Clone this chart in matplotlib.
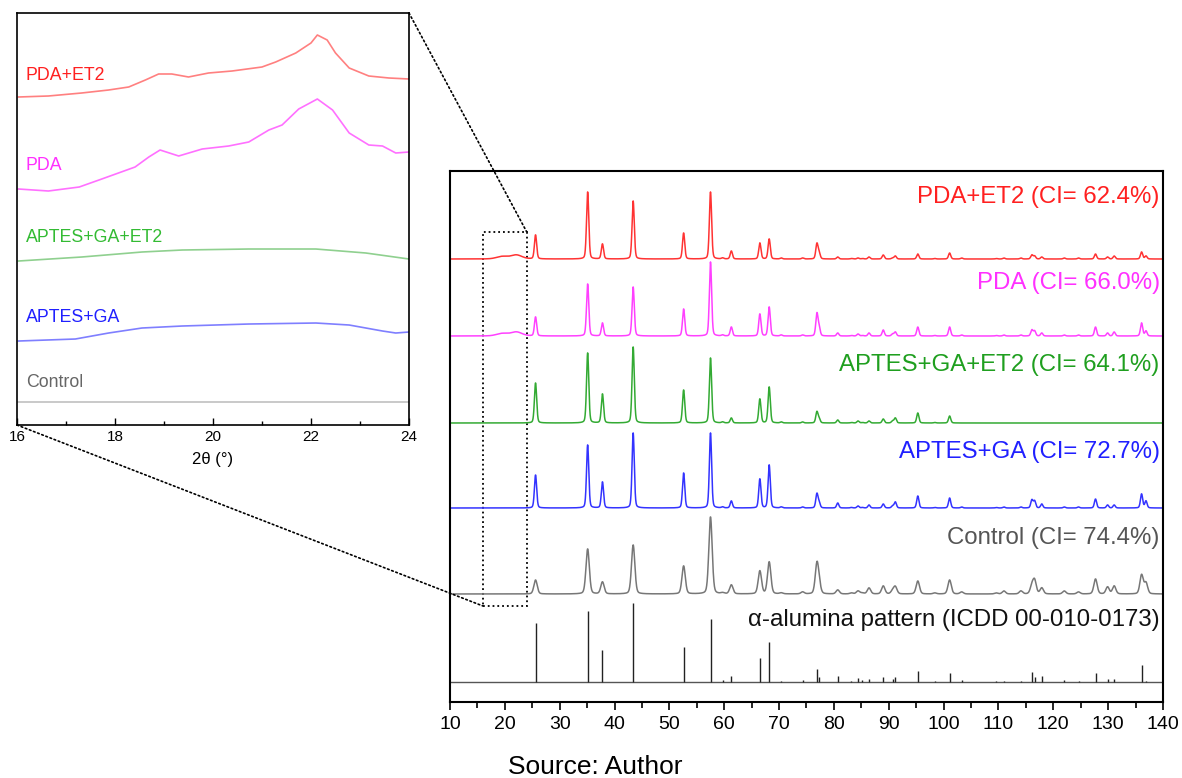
import numpy as np
import matplotlib
matplotlib.use("Agg")
import matplotlib.pyplot as plt
from matplotlib.patches import Rectangle, ConnectionPatch

plt.rcParams['font.family'] = ['Liberation Sans', 'DejaVu Sans']

# peak positions (2theta, deg) of alpha-alumina and heights
peak_pos = [25.6, 35.1, 37.8, 43.4, 52.6, 57.5, 59.7, 61.3, 66.5, 68.2, 70.4, 74.3,
            76.9, 77.3, 80.7, 83.2, 84.4, 85.2, 86.4, 89.0, 90.7, 91.2, 95.3, 98.4,
            101.1, 103.3, 109.6, 111.0, 114.1, 116.1, 116.6, 117.9, 122.0, 124.6,
            127.7, 129.9, 131.1, 136.1, 136.9]
red_h = [24, 67, 15, 58, 26, 67, 1, 8, 16, 20, 1, 1, 15, 6, 2, 0.5, 1, 0.5, 2, 4, 1, 3,
         5, 0.5, 6, 1, 0.5, 1, 1, 4, 3, 2, 1, 1, 5, 2, 3, 7, 3]
pda_h = [19, 52, 13, 49, 27, 74, 1, 9, 22, 29, 1, 1, 22, 8, 3, 0.5, 2, 0.5, 3, 6, 2, 4,
         9, 0.5, 9, 1, 0.5, 1, 1, 6, 5, 3, 1, 1, 9, 3, 4, 13, 5]
green_h = [40, 70, 29, 76, 33, 65, 1, 5, 24, 36, 1, 1, 11, 4, 3, 0.5, 2, 0.5, 2, 4, 2, 5,
           10, 0.5, 7, 0, 0, 0, 0, 0, 0, 0, 0, 0, 0, 0, 0, 0, 0]
blue_h = [33, 63, 26, 75, 35, 75, 1, 7, 29, 43, 1, 1, 14, 5, 5, 0.5, 2, 0.5, 3, 4, 2, 6,
          12, 0.5, 10, 1, 0.5, 1, 1, 8, 7, 4, 1, 1, 9, 3, 3, 14, 7]
ctrl_h = [14, 45, 12, 49, 28, 77, 1, 9, 23, 32, 1, 2, 29, 8, 4, 1, 3, 1, 6, 8, 3, 7,
          13, 1, 14, 2, 1, 3, 3, 8, 13, 6, 3, 2, 15, 7, 8, 19, 11]
ref_h = [59, 71, 32, 79, 35, 63, 2, 6, 24, 40, 1, 2, 13, 5, 6, 1, 4, 2, 3, 5, 3, 5,
         11, 1, 9, 2, 0.5, 0.5, 0.5, 10, 5, 6, 2, 1, 9, 3, 3, 17, 1]

# broad amorphous hump (PDA coatings)
hump_pos = [19.5, 22.1]
red_hump = [2.5, 4]
pda_hump = [2.5, 4]

# vertical offsets of each pattern
offsets = {'red': 443, 'pda': 366, 'green': 279, 'blue': 194, 'ctrl': 108, 'ref': 20}

labels = ['PDA+ET2 (CI= 62.4%)', 'PDA (CI= 66.0%)', 'APTES+GA+ET2 (CI= 64.1%)',
          'APTES+GA (CI= 72.7%)', 'Control (CI= 74.4%)',
          'α-alumina pattern (ICDD 00-010-0173)']

# zoomed region 16-24 deg (traced curves)
red_zx = [16.03, 16.64, 17.32, 17.87, 18.28, 18.62, 18.89, 19.16, 19.5, 19.91, 20.39,
          21.0, 21.28, 21.69, 22.0, 22.13, 22.33, 22.5, 22.78, 23.18, 23.59, 24.0]
red_zy = [328, 329, 332, 335, 338, 345, 351, 351, 348, 352, 354, 358, 363, 372, 382,
          390, 385, 372, 357, 349, 347, 346]
pda_zx = [16.03, 16.64, 17.27, 17.73, 18.41, 18.69, 18.92, 19.3, 19.78, 20.32, 20.73,
          21.14, 21.41, 21.75, 22.13, 22.44, 22.78, 23.18, 23.46, 23.73, 24.0]
pda_zy = [236, 234, 238, 246, 258, 268, 275, 269, 276, 279, 283, 295, 300, 316, 326,
          315, 292, 280, 279, 272, 273]
green_zx = [16.03, 17.32, 18.55, 19.37, 20.73, 22.1, 23.12, 24.0]
green_zy = [164, 168, 173, 175, 176, 176, 172, 166]
blue_zx = [16.03, 17.19, 17.87, 18.55, 19.37, 20.73, 22.1, 22.78, 23.46, 23.73, 24.0]
blue_zy = [84, 86, 92, 97, 99, 101, 102, 100, 94, 92, 93]
ctrl_zx = [16.0, 24.0]
ctrl_zy = [23, 23]
zoom_labels = ['PDA+ET2', 'PDA', 'APTES+GA+ET2', 'APTES+GA', 'Control']


def pattern(x, pos, h, w):
    y = np.zeros_like(x)
    for p, hh in zip(pos, h):
        d = (x - p) / w
        y += hh * (0.75 * np.exp(-np.log(2) * d ** 2) + 0.25 / (1 + d ** 2))
    return y


fig = plt.figure(figsize=(11.82, 7.78), dpi=100)
ax = fig.add_axes([0.3807, 0.0977, 0.6032, 0.6825])
x = np.arange(10, 140, 0.02)

cols = {'red': '#ff3333', 'pda': '#ff40ff', 'green': '#33aa33', 'blue': '#3333ff',
        'ctrl': '#777777'}
y_red = offsets['red'] + pattern(x, peak_pos, red_h, 0.24) + pattern(x, hump_pos, red_hump, 1.2)
y_pda = offsets['pda'] + pattern(x, peak_pos, pda_h, 0.24) + pattern(x, hump_pos, pda_hump, 1.2)
y_green = offsets['green'] + pattern(x, peak_pos, green_h, 0.24)
y_blue = offsets['blue'] + pattern(x, peak_pos, blue_h, 0.24)
y_ctrl = offsets['ctrl'] + pattern(x, peak_pos, ctrl_h, 0.36)
ax.plot(x, y_red, color=cols['red'], lw=1.1)
ax.plot(x, y_pda, color=cols['pda'], lw=1.1)
ax.plot(x, y_green, color=cols['green'], lw=1.1)
ax.plot(x, y_blue, color=cols['blue'], lw=1.1)
ax.plot(x, y_ctrl, color=cols['ctrl'], lw=1.1)

ax.axhline(offsets['ref'], color='#555555', lw=1)
ax.vlines(peak_pos, offsets['ref'], offsets['ref'] + np.array(ref_h), color='#222222', lw=1)

lab_y = [505, 419, 337, 250, 164, 82]
lab_c = ['#ff2020', '#ff30ff', '#1f9f1f', '#2020ff', '#555555', '#111111']
for t, yy, c in zip(labels, lab_y, lab_c):
    ax.text(139.4, yy, t, color=c, fontsize=17.3, ha='right', va='center')

ax.set_xlim(10, 140)
ax.set_ylim(0, 531)
ax.set_xticks(np.arange(10, 141, 10))
ax.set_xticks(np.arange(15, 140, 10), minor=True)
ax.set_yticks([])
ax.tick_params(axis='x', which='major', direction='out', length=6, width=1.2,
               labelsize=14, pad=4)
ax.tick_params(axis='x', which='minor', direction='out', length=4, width=1.2)
for s in ax.spines.values():
    s.set_linewidth(1.5)

ax.add_patch(Rectangle((16, 96), 8, 374, fill=False, ls=':', lw=1.3, color='black'))

# zoom panel
axz = fig.add_axes([0.0144, 0.4537, 0.3316, 0.5296])
axz.plot(red_zx, red_zy, color='#ff8080', lw=1.2)
axz.plot(pda_zx, pda_zy, color='#ff70ff', lw=1.2)
axz.plot(green_zx, green_zy, color='#8fd08f', lw=1.2)
axz.plot(blue_zx, blue_zy, color='#7f7fff', lw=1.2)
axz.plot(ctrl_zx, ctrl_zy, color='#c0c0c0', lw=1.2)
zl_y = [349, 260, 188, 108, 43]
zl_c = ['#ff2020', '#ff30ff', '#33bb33', '#2020ff', '#666666']
for t, yy, c in zip(zoom_labels, zl_y, zl_c):
    axz.text(16.18, yy, t, color=c, fontsize=12.8, ha='left', va='center')
axz.set_xlim(16, 24)
axz.set_ylim(0, 412)
axz.set_xticks(np.arange(16, 25, 2))
axz.set_xticks(np.arange(17, 24, 2), minor=True)
axz.set_yticks([])
axz.tick_params(axis='x', which='major', direction='in', length=5, width=1, labelsize=11)
axz.tick_params(axis='x', which='minor', direction='in', length=3, width=1)
axz.set_xlabel('2θ (°)', fontsize=12, labelpad=6)
for s in axz.spines.values():
    s.set_linewidth(1.2)

for za, ma in [((1, 1), (24, 470)), ((0, 0), (16, 96))]:
    con = ConnectionPatch(xyA=za, coordsA=axz.transAxes, xyB=ma, coordsB=ax.transData,
                          ls=':', lw=1.2, color='black')
    fig.add_artist(con)

fig.text(0.504, 0.014, 'Source: Author', fontsize=19, ha='center', va='center')

plt.savefig('out.png', dpi=100)
